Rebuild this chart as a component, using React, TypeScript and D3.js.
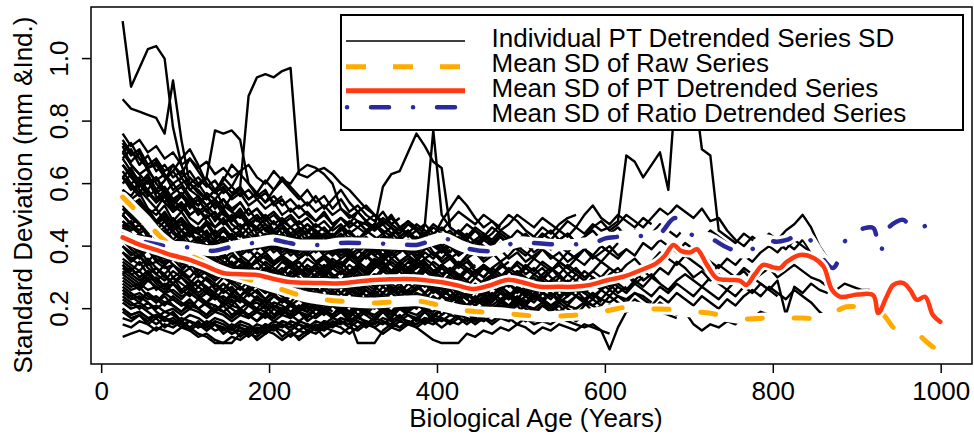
import React from "react";
import * as d3 from "d3";

// Individual PT detrended series SD: values every 10 years of biological age, starting at age 25
const AGE0 = 25;
const STEP = 10;

const outlierSeries: number[][] = [
  [1.12,.91,.97,1.03,1.04,1.0,.78,.66,.58,.56,.53,.55,.51,.49,.52,.48,.46,.49,.45,.47,.44,.46,.43,.41,.44,.42,.40,.43,.39,.41,.38,.40],
  [.62,.60,.57,.61,.56,.54,.57,.59,.55,.53,.57,.55,.58,.56,.59,.88,.94,.95,.94,.96,.97,.63,.62,.64,.65,.63,.60,.58,.55,.52,.50,.48,.46],
  [.74,.70,.68,.65,.66,.62,.64,.60,.62,.59,.62,.77,.76,.77,.74,.60,.56,.58,.53,.55,.51,.53,.50,.48,.51,.47,.49,.46,.48,.45,.47,.44,.46,.43,.45,.42,.44,.41],
  [.87,.84,.83,.82,.81,.76,.93,.74,.60,.57,.55,.58,.53,.51,.54,.50,.52,.48,.50,.47,.49,.46,.44,.47,.45,.43,.46,.44,.42,.45,.43,.41,.44,.42,.40,.43,.41,.44,.40,.42,.39,.41,.38,.40],
  [.58,.55,.53,.50,.52,.48,.46,.49,.45,.44,.47,.43,.45,.42,.44,.41,.43,.40,.42,.44,.41,.43,.40,.42,.39,.41,.43,.40,.42,.44,.46,.59,.63,.64,.70,.76,.72,.67,.65,.46,.44,.42,.45,.43,.41,.44,.42,.40,.43,.41,.39,.42,.40,.38,.41,.39,.37,.40,.38],
  [.50,.47,.45,.48,.44,.46,.42,.45,.41,.43,.40,.42,.39,.41,.38,.40,.42,.39,.41,.38,.40,.37,.39,.41,.38,.40,.37,.39,.36,.38,.40,.37,.39,.41,.38,.40,.47,.77,.50,.46,.44,.47,.45,.43,.46,.44,.42,.45,.43,.41,.44,.42,.40],
  [.52,.50,.47,.49,.46,.44,.47,.45,.43,.46,.44,.42,.45,.43,.41,.44,.42,.40,.43,.41,.44,.42,.40,.43,.41,.39,.42,.40,.43,.41,.39,.42,.40,.38,.41,.39,.42,.40,.38,.41,.39,.42,.40,.43,.41,.39,.42,.40,.43,.41,.44,.42,.45,.43,.46,.44,.47,.45,.46,.48,.69,.67,.62,.66,.70,.58,.95,.95,.92,.71,.69,.45,.43,.41,.44,.42,.40,.43,.41,.39,.42,.40,.38,.36,.33],
  [.70,.66,.63,.60,.62,.58,.55,.57,.54,.56,.53,.55,.52,.56,.58,.55,.57,.54,.58,.61,.60,.64,.66,.65,.63,.60,.52,.50,.48,.47,.45,.48,.46,.44,.47,.45,.43,.46,.44,.42,.45,.43,.46,.44,.42,.45,.43,.41],
  [.66,.63,.60,.62,.58,.61,.64,.68,.71,.66,.60,.57,.59,.55,.57,.53,.55,.52,.54,.50,.52,.49,.51,.48,.50,.47,.49,.46,.48,.45,.47,.44,.46,.43,.45,.42,.44,.41,.43],
  [.62,.65,.60,.63,.58,.61,.66,.63,.68,.64,.60,.57,.62,.59,.64,.66,.62,.60,.64,.61,.58,.55,.58,.54,.56,.52,.55,.51,.53,.50,.48,.51,.47,.49],
  [.58,.56,.60,.57,.54,.57,.53,.56,.60,.58,.55,.58,.61,.66,.63,.60,.57,.61,.58,.62,.59,.56,.53,.56,.52,.55,.58,.54,.51,.53,.50,.47,.50,.46,.48,.45,.47,.44,.46,.43,.45,.42],
];

const highBandSeries: number[][] = [
  [.72,.66,.63,.65,.60,.57,.60,.56,.53,.55,.51,.54,.50,.48,.51,.47,.49,.45,.48,.44,.46,.43,.45,.42,.44,.41,.43,.45,.42],
  [.68,.64,.61,.58,.62,.57,.54,.57,.52,.55,.51,.49,.52,.48,.50,.46,.49,.45,.43,.46,.42,.45,.41,.44,.40,.43,.46,.42,.39,.42,.40,.43,.41,.38,.42,.39,.41,.44,.40,.38,.41,.39,.42,.40,.37,.40,.43,.39,.41,.38,.40],
  [.64,.60,.62,.57,.55,.58,.53,.51,.54,.50,.52,.48,.51,.47,.45,.48,.44,.46,.43,.41,.44,.40,.42,.45,.41,.39,.42,.38,.41,.43,.40,.37,.40,.42,.39,.36,.39,.41,.38,.40,.37,.39,.42,.44,.40,.38,.41,.39,.37,.40,.42,.39,.41,.38,.36,.39,.42,.40,.38,.41],
  [.60,.63,.58,.55,.52,.56,.51,.53,.49,.47,.50,.46,.48,.45,.43,.46,.42,.44,.41,.43,.40,.42,.39,.41,.43,.40,.38,.41,.39,.36,.39,.41,.38,.40,.37,.39,.42,.38,.36,.39],
  [.58,.55,.57,.52,.50,.53,.48,.51,.47,.45,.48,.44,.46,.43,.45,.41,.44,.40,.42,.39,.41,.38,.40,.42,.39,.37,.40,.38,.36,.39,.37,.35,.38,.40,.37,.35,.38,.36,.39,.37,.34,.37,.39,.36,.38,.35,.37,.40,.38,.36,.39,.37,.35,.38,.36,.39,.37],
  [.70,.67,.70,.64,.61,.63,.58,.60,.56,.53,.56,.52,.55,.51,.49,.52,.48,.50,.47,.49,.46,.48,.45,.47],
  [.66,.62,.59,.61,.57,.59,.55,.52,.55,.51,.53,.50,.47,.50,.46,.48,.45,.47,.44,.46,.43,.45,.47,.44,.46,.43,.45,.48,.46,.44,.47,.45,.43,.46,.44,.47,.45,.43,.48,.52,.56,.53,.49,.46,.48,.45,.47,.50,.48,.46,.49,.47,.45,.48,.46,.50,.53,.49,.47,.50,.48,.46,.49,.47],
  [.62,.59,.56,.58,.54,.56,.52,.54,.50,.52,.49,.51,.47,.49,.46,.48,.50,.47,.45,.48,.46,.44,.47,.45,.43,.46,.49,.47,.51,.48,.46,.49,.47,.45,.48,.46,.44,.47,.45,.48,.51,.49,.47,.50,.48,.46],
  [.56,.53,.55,.51,.48,.51,.47,.49,.46,.44,.47,.43,.45,.42,.44,.41,.43,.40,.42,.44,.41,.43,.40,.42,.39,.41,.43,.40,.42,.39,.41,.43,.40,.42,.44,.41,.43,.40,.42,.44,.41,.43,.45,.42,.44,.47,.50,.48,.45,.43,.46,.44,.47,.49,.50],
  [.62,.58,.60,.56,.58,.54,.51,.54,.50,.52,.48,.46,.49,.45,.47,.44,.46,.43,.45,.42,.44,.41,.43,.40,.42,.44,.41,.43,.40,.42,.39,.41,.43,.40,.42,.39,.41,.44,.42,.40,.43,.41,.39,.42,.40,.43,.41,.39,.42],
  [.70,.73,.68,.65,.67,.63,.60,.62,.58,.60,.56,.53,.55,.52,.54,.50,.52,.49,.51,.48,.50,.47,.49,.46,.48,.45,.47,.44,.46,.48,.45,.47,.44,.46,.43,.45,.42,.44],
  [.73,.69,.71,.66,.68,.64,.66,.62,.64,.60,.62,.58,.60,.57,.59,.55,.57,.54,.56,.53,.55,.52,.54,.51,.53,.50,.52,.49,.51,.48,.50,.47,.49,.46],
  [.68,.71,.66,.69,.64,.66,.62,.64,.60,.62,.59,.61,.57,.59,.56,.58,.55,.57,.54,.56],
  [.56,.52,.54,.50,.47,.50,.46,.48,.44,.46,.43,.45,.42,.44,.41,.43,.40,.42,.39,.41,.43,.40,.42,.39,.41,.38,.40,.42,.39,.41,.38,.40,.37,.39,.41,.38,.40,.37,.39,.36,.38],
  [.76,.72,.74,.70,.72,.68,.70,.66,.68,.65,.67,.63,.65,.62,.64],
];

const midBandSeries: number[][] = [
  [.52,.49,.47,.44,.46,.42,.40,.43,.39,.41,.37,.39,.36,.38,.35,.33,.36,.34,.32,.35,.33,.31,.34,.32,.30,.33,.31,.34,.32,.30,.33,.35,.32,.30,.33,.31,.34,.32,.30,.28,.31,.29,.32,.30,.33,.31,.29,.32,.30,.28,.31,.33,.30,.28,.31,.29,.32,.30,.33],
  [.48,.45,.47,.43,.41,.44,.40,.38,.41,.37,.39,.36,.34,.37,.35,.33,.36,.34,.31,.33,.30,.32,.29,.31,.34,.31,.29,.32,.30,.28,.31,.29,.32,.34,.31,.29,.27,.30,.28,.31,.29,.27,.25,.28,.30,.27,.29,.31,.28,.26,.29,.27,.30],
  [.45,.43,.40,.42,.38,.40,.37,.35,.38,.34,.36,.33,.35,.32,.34,.31,.33,.30,.32,.29,.31,.33,.30,.28,.31,.29,.27,.30,.28,.31,.29,.27,.30,.32,.29,.31,.28,.26,.29,.27,.25,.28,.26,.29,.27,.30,.28,.26,.29,.27,.30,.28,.26,.29,.27,.25,.28,.30,.27,.29,.31,.28,.30],
  [.55,.51,.48,.50,.46,.44,.47,.43,.45,.41,.39,.42,.38,.40,.37,.35,.38,.36,.34,.37,.35,.33,.36,.34,.37,.35,.33,.36,.34,.32,.35,.37,.34,.32,.35,.33,.36,.34,.31,.33,.30,.32,.34],
  [.50,.47,.44,.46,.42,.44,.40,.42,.38,.36,.39,.35,.37,.34,.32,.35,.31,.33,.30,.32,.35,.33,.31,.34,.32,.35,.33,.36,.34,.32,.35,.33,.31,.34,.36,.33,.35,.32,.30,.33,.31,.29,.32,.30,.33,.35,.32,.34,.31,.33,.30,.32,.35,.33,.31],
  [.42,.40,.43,.39,.37,.40,.36,.38,.35,.33,.36,.32,.34,.31,.33,.30,.32,.29,.31,.28,.30,.27,.29,.31,.28,.30,.27,.29,.26,.28,.30],
  [.47,.44,.41,.43,.39,.37,.40,.36,.38,.35,.37,.34,.32,.35,.31,.33,.30,.28,.31,.29,.27,.30,.28,.26,.29,.27,.25,.28,.26,.29,.27,.25,.28,.26,.24,.27,.25,.28,.26,.24,.22,.25,.23,.26,.24,.27,.25,.23,.26,.24,.27,.25,.23,.26,.24,.27,.29,.26,.28,.25,.27],
  [.44,.41,.39,.42,.38,.36,.39,.35,.37,.34,.32,.35,.33,.31,.34,.32,.30,.33,.31,.29,.32,.30,.28,.31,.33,.30,.32,.29,.31,.28,.30,.33,.31,.29,.32,.30,.28,.31,.29,.27,.30,.28,.26,.29,.31,.28,.30,.32,.29],
  [.53,.50,.52,.47,.45,.48,.44,.42,.45,.41,.43,.40,.38,.41,.37,.39,.36,.38,.35,.37,.34,.36,.38,.35,.33,.36,.34,.37,.35,.33,.36,.34,.32,.35,.33,.36,.34],
  [.40,.38,.36,.39,.35,.37,.34,.32,.35,.31,.33,.30,.32,.29,.31,.28,.30,.27,.29,.26,.28,.25,.27,.24,.26,.28,.25,.27,.24,.26,.23,.25,.27,.24,.26,.23,.25,.22,.24,.26,.23,.25,.22,.24,.21,.23,.25,.22,.24,.26,.23,.25,.22,.24,.26,.23,.25,.22],
  [.46,.48,.44,.42,.45,.41,.39,.42,.38,.40,.37,.35,.38,.34,.36,.33,.35,.32,.34,.36,.33,.35,.32,.34,.31,.33,.35,.32,.34,.37,.35,.33,.36,.34,.32,.35,.33,.31,.34,.32,.30,.33,.31,.34,.32,.30,.33],
  [.43,.40,.38,.41,.37,.35,.38,.34,.36,.33,.35,.32,.30,.33,.31,.29,.32,.30,.28,.31,.29,.32,.30,.28,.31,.29,.27,.30,.32,.29,.31,.28,.30,.33,.31,.29,.32,.30,.28,.31,.29,.27,.30,.28,.31,.29,.27,.30,.28,.31,.33,.30,.28,.31,.29,.32,.30,.28,.31,.33,.30,.32,.29,.31,.28],
  [.40,.37,.39,.35,.38,.34,.36,.33,.35,.32,.34,.31,.33,.35,.32,.34,.31,.33,.30,.32,.34,.31,.33,.30,.32,.35,.33,.31,.34,.32,.35,.33,.31,.34,.32,.30,.33,.31,.34,.32,.35,.33,.31,.34,.32,.30,.33,.31,.34,.32,.35,.33,.31,.34,.32,.30],
  [.34,.32,.35,.31,.33,.30,.28,.31,.29,.27,.30,.28,.26,.29,.27,.25,.28,.26,.24,.27,.25,.28,.26,.24,.27,.25,.23,.26,.24,.27,.25,.23,.26,.24,.22,.25,.23,.26,.24,.27,.25,.23,.26,.24,.27,.25,.23,.26,.24,.27,.25,.28,.26,.24,.27,.25,.28,.26,.29,.27],
  [.50,.53,.49,.51,.47,.49,.45,.47,.44,.42,.45,.41,.43,.40,.42,.39,.41,.38,.40,.37,.39,.36,.38,.40,.37,.39,.36,.38,.35,.37,.39,.36,.38,.35,.37,.34,.36,.38,.35,.37,.34,.36,.33],
  [.45,.42,.44,.40,.42,.39,.41,.37,.39,.36,.38,.35,.37,.34,.36,.33,.35,.37,.34,.36,.33,.35,.32,.34,.36,.33,.35,.32,.34,.31,.33,.35,.32,.34,.31,.33,.35,.32,.34,.36,.33,.35,.32,.34,.31,.33,.35],
  [.38,.36,.37,.34,.35,.33,.34,.31,.33,.30,.32,.29,.31,.28,.30,.27,.29,.31,.28,.30,.27,.29,.26,.28,.30,.27,.29,.26,.28,.30,.27,.29,.26,.28,.25,.27,.29,.26,.28,.30,.27,.29,.26,.28,.30,.27,.29,.31,.28,.30,.27,.29,.31,.28],
  [.48,.46,.44,.46,.43,.45,.41,.43,.40,.42,.39,.41,.38,.40,.37,.39,.36,.38,.35,.37,.34,.36,.38,.35,.37,.34,.36,.38,.35,.37,.34,.36,.38,.35,.37,.39,.36,.38,.35,.37,.34,.36,.38,.35,.37,.39,.36,.38,.35,.37,.39,.36,.38,.35,.37,.39,.36,.38,.40,.37,.39],
  [.42,.44,.41,.43,.40,.42,.39,.41,.38,.40,.42,.39,.41,.38,.40,.42,.39,.41,.43,.40,.42,.39,.41,.43,.40,.42,.44,.41,.43,.40,.42,.44,.41,.43,.40,.42,.44,.41,.43,.45,.42,.44,.41,.43],
  [.31,.33,.30,.32,.29,.31,.28,.30,.27,.29,.26,.28,.25,.27,.24,.26,.28,.25,.27,.24,.26,.23,.25,.27,.24,.26,.23,.25,.27,.24,.26,.23,.25,.27,.24,.26,.28,.25,.27,.24,.26,.28,.25,.27,.24,.26,.28,.25,.27,.29,.26],
];

const lowBandSeries: number[][] = [
  [.11,.12,.13,.12,.14,.13,.12,.14,.13,.11,.12,.10,.09,.11,.10,.12,.11,.13,.12,.10,.12,.11,.13,.12,.14,.13,.12,.14,.13,.15,.14,.12,.14,.13,.15,.14,.12,.10,.09,.09,.09,.12,.11,.13,.12,.14,.13,.15,.14,.12,.14,.13,.15,.14,.13,.15,.14,.13,.12],
  [.15,.14,.16,.15,.13,.15,.14,.16,.14,.12,.11,.09,.09,.09,.12,.14,.13,.15,.14,.16,.15,.13,.15,.14,.16,.15,.17,.16,.09,.09,.09,.13,.15,.14,.16,.15,.17,.16,.14,.16,.15,.17,.16,.18],
  [.19,.17,.18,.16,.18,.17,.15,.17,.16,.14,.16,.15,.13,.15,.14,.12,.14,.13,.15,.14,.16,.15,.13,.15,.14,.16,.15,.17,.16,.14,.16,.15,.17,.16,.18,.17,.15,.17,.16,.18,.17,.15,.17,.16,.18,.17,.19,.18,.16,.18,.17,.19,.18],
  [.22,.20,.21,.19,.17,.19,.18,.16,.18,.17,.15,.17,.16,.14,.16,.15,.13,.15,.14,.16,.15,.13,.15,.14,.16,.15,.17,.16,.14,.16,.15,.17,.16,.14,.16,.15,.17,.16],
  [.25,.23,.24,.22,.20,.22,.21,.19,.21,.20,.18,.20,.19,.17,.19,.18,.16,.18,.17,.19,.18,.16,.18,.17,.19,.18,.20,.19,.17,.19,.18,.20,.19,.17,.19,.18,.20,.19,.21,.20,.18,.20,.19,.21,.20,.18,.20,.19,.21,.20,.22,.21,.19,.21,.20,.22,.21,.19,.21,.20,.22],
  [.28,.26,.27,.24,.22,.25,.23,.21,.23,.20,.22,.19,.21,.18,.20,.17,.19,.21,.18,.20,.17,.19,.21,.18,.20,.22,.19,.21,.18,.20,.22,.19,.21,.23,.20,.22,.19,.21,.18,.20,.22,.19,.21,.23,.20,.22,.24,.21,.23],
  [.31,.29,.27,.30,.26,.28,.25,.23,.26,.24,.22,.25,.23,.21,.24,.22,.20,.23,.21,.19,.22,.20,.23,.21,.19,.22,.20,.18,.21,.19,.22,.20,.18,.21,.19,.22,.20,.23,.21,.19,.22,.20,.18,.21,.19,.22,.20,.23,.21,.24,.22,.20,.23,.21,.24,.22],
  [.35,.33,.30,.32,.29,.27,.30,.26,.28,.25,.27,.24,.22,.25,.23,.21,.24,.22,.20,.23,.21,.19,.22,.20,.23,.21,.19,.22,.20,.18,.21,.19,.22],
  [.38,.35,.37,.33,.31,.34,.30,.32,.29,.27,.30,.26,.28,.25,.27,.24,.26,.23,.25,.22,.24,.26,.23,.25,.22,.24,.21,.23,.25,.22,.24,.21,.23,.20,.22,.24,.21,.23,.20,.22,.24,.21,.23,.25,.22],
  [.33,.31,.29,.31,.28,.26,.28,.25,.27,.24,.22,.24,.21,.23,.20,.22,.19,.21,.18,.20,.17,.19,.16,.18,.20,.17,.19,.16,.18,.15,.17,.19,.16,.18,.15,.17,.19,.16,.18,.20,.17,.19,.16,.18,.20,.17,.19,.21,.18,.20,.17,.19,.21,.18,.20,.22,.19,.21],
  [.24,.22,.20,.22,.19,.17,.19,.16,.14,.16,.13,.15,.12,.14,.11,.13,.10,.12,.14,.11,.13,.10,.12,.14,.11,.13],
  [.27,.25,.23,.25,.22,.24,.21,.19,.22,.20,.18,.21,.19,.17,.20,.18,.16,.19,.17,.20,.18,.21,.19,.22,.20,.18,.21,.19,.22,.20,.23,.21,.19,.22,.20,.23,.21,.24,.22,.20,.23,.21,.24,.22,.25,.23,.21,.24,.22,.25,.23,.21],
  [.20,.18,.19,.17,.15,.17,.16,.14,.16,.15,.13,.15,.14,.12,.14,.13,.15,.14,.16,.15,.13,.15,.14,.16,.15,.17,.16,.14,.16,.15,.17,.16,.14,.16,.15,.17,.16,.18,.17,.15,.17,.16,.18,.17,.15,.17,.16,.18,.17,.15,.16,.15,.17,.16,.15,.14,.15,.13,.07,.14,.19,.20,.21,.20,.19,.18,.17],
  [.23,.21,.22,.20,.21,.19,.20,.18,.20,.19,.17,.19,.18,.16,.18,.17,.19,.18,.16,.18,.17,.19,.18,.20,.19,.17,.19,.18,.20,.19,.17,.19,.18,.20,.19,.21,.20,.18,.20,.19,.21,.20,.18,.20,.19,.21,.20,.22,.21,.19,.21,.20],
  [.29,.27,.28,.26,.27,.25,.26,.24,.25,.23,.25,.24,.22,.24,.23,.21,.23,.22,.24,.23,.21,.23,.22,.24,.23,.21,.23,.22,.24,.23,.25,.24,.22,.24,.23,.25,.24,.22,.24,.23,.25,.24,.26,.25,.23,.25,.24,.26,.25,.23,.25,.24,.26,.25,.27,.26,.24,.26],
  [.26,.24,.25,.23,.24,.22,.23,.21,.22,.20,.22,.21,.19,.21,.20,.18,.20,.19,.21,.20,.18,.20,.19,.21,.20,.22,.21,.19,.21,.20,.22,.21,.19,.21,.20,.22,.21,.23,.22,.20,.22,.21,.23,.22,.20,.22,.21,.23,.22,.24,.23,.21,.23,.22,.24,.23,.21,.23,.22,.24,.23,.25,.24,.22],
  [.20,.18,.19,.17,.18,.16,.17,.15,.16,.14,.15,.13,.14,.12,.13,.11,.13,.12,.14,.13,.11,.13,.12,.14,.13,.15,.14,.12,.14],
  [.34,.31,.32,.29,.30,.27,.28,.25,.27,.24,.26,.23,.24,.22,.23,.21,.22,.20,.22,.21,.19,.21,.20,.22,.21,.19],
  [.17,.16,.18,.15,.17,.14,.16,.15,.13,.15,.14,.16,.15,.13,.15,.14,.12,.14,.13,.15,.14,.16,.15,.13,.15,.14,.16,.15,.17,.16,.14,.16,.15,.17,.16,.14,.16,.15,.17,.16,.18,.17,.15,.17,.16,.18,.17,.15,.17,.16,.18,.17,.19,.18,.16,.18,.17],
];

const longSeries: number[][] = [
  [.54,.51,.49,.52,.48,.46,.49,.45,.47,.44,.42,.45,.41,.43,.40,.42,.39,.41,.38,.40,.37,.39,.41,.38,.40,.37,.39,.36,.38,.40,.37,.39,.36,.38,.40,.37,.39,.41,.38,.40,.37,.39,.42,.40,.38,.41,.39,.42,.40,.43,.41,.39,.42,.44,.41,.43,.46,.48,.45,.47,.50,.48,.46,.49,.52,.50,.53,.51,.49,.52,.48,.49,.45,.42,.40,.43,.41,.44,.42,.45,.47,.50,.46,.40,.36],
  [.36,.34,.32,.35,.31,.29,.32,.30,.28,.31,.29,.27,.30,.28,.26,.29,.27,.25,.28,.26,.24,.27,.25,.28,.26,.24,.27,.25,.23,.26,.24,.27,.25,.23,.26,.28,.25,.27,.24,.26,.23,.25,.28,.26,.24,.27,.25,.23,.26,.28,.25,.27,.24,.26,.29,.27,.30,.28,.26,.29,.31,.29,.32,.30,.33,.31,.35,.33,.30,.32,.29,.31,.28,.30,.32,.29,.31,.33,.30,.32,.34,.32,.30,.29,.27,.26,.28,.27,.26,.26],
  [.30,.28,.26,.29,.27,.25,.28,.26,.24,.27,.25,.23,.26,.24,.22,.25,.23,.21,.24,.22,.25,.23,.21,.24,.22,.25,.23,.21,.24,.22,.20,.23,.21,.24,.22,.20,.23,.21,.24,.22,.25,.23,.21,.24,.22,.25,.23,.26,.24,.22,.25,.23,.26,.24,.27,.25,.23,.26,.24,.27,.25,.28,.26,.24,.27,.25,.28,.26,.24,.27,.25,.23,.26,.24,.27,.25,.28,.26,.29,.18,.27,.25,.28,.26,.25],
  [.26,.24,.22,.25,.23,.21,.24,.22,.20,.23,.21,.19,.22,.20,.18,.21,.19,.17,.20,.18,.21,.19,.17,.20,.18,.21,.19,.17,.20,.18,.16,.19,.17,.20,.18,.16,.19,.17,.20,.18,.21,.19,.17,.20,.18,.21,.19,.22,.20,.18,.21,.19,.22,.20,.18,.21,.23,.21,.24,.22,.20,.23,.21,.19,.22,.20,.18,.19,.15,.13,.15,.14,.16,.15,.18,.17,.19,.18],
  [.32,.30,.28,.31,.29,.27,.30,.28,.26,.29,.27,.25,.28,.26,.24,.27,.25,.23,.26,.24,.22,.25,.23,.26,.24,.22,.25,.23,.21,.24,.22,.25,.23,.21,.24,.22,.20,.23,.21,.24,.22,.20,.23,.21,.24,.22,.25,.23,.21,.24,.22,.25,.23,.26,.24,.22,.25,.23,.26,.24,.22,.25,.23,.21,.24,.22,.25,.23,.21,.24,.22,.20,.23,.21,.24,.26,.24,.27,.25,.23,.26,.24,.22,.19,.17],
  [.46,.43,.41,.44,.40,.38,.41,.37,.39,.36,.34,.37,.35,.33,.36,.34,.32,.35,.33,.31,.34,.32,.30,.33,.31,.34,.32,.30,.33,.31,.34,.32,.35,.33,.31,.34,.32,.35,.33,.31,.34,.32,.30,.33,.31,.34,.32,.35,.33,.36,.34,.32,.35,.33,.36,.34,.37,.35,.38,.36,.39,.37,.41,.39,.42,.40,.38,.41,.39,.37,.35,.33,.36,.34,.37,.35,.38,.40,.38,.41,.39,.42,.38,.34,.30],
  [.38,.36,.34,.36,.33,.31,.34,.32,.30,.33,.31,.29,.32,.30,.28,.31,.29,.27,.30,.28,.26,.29,.27,.30,.28,.26,.29,.27,.25,.28,.26,.29,.27,.25,.28,.26,.29,.27,.25,.28,.26,.24,.27,.25,.28,.26,.24,.27,.25,.28,.26,.29,.27,.25,.28,.26,.29,.27,.30,.28,.26,.29,.27,.30,.28,.26,.29,.31,.29,.27,.30,.28,.26,.29,.27,.30,.28,.26,.24],
  [.42,.39,.37,.40,.36,.34,.37,.35,.33,.36,.34,.32,.30,.33,.31,.29,.32,.30,.28,.31,.29,.32,.30,.28,.31,.29,.32,.30,.28,.31,.29,.32,.30,.28,.31,.29,.32,.30,.33,.31,.29,.32,.30,.28,.31,.29,.32,.30,.33,.31,.29,.32,.34,.31,.33,.30,.32,.35,.33,.31,.34,.36,.33,.35,.38,.36,.34,.37,.35,.33,.31,.34,.32,.30,.33,.31],
  [.50,.47,.49,.45,.47,.43,.45,.42,.44,.41,.43,.40,.42,.39,.41,.38,.40,.42,.39,.41,.38,.40,.37,.39,.41,.38,.40,.37,.39,.41,.38,.40,.42,.39,.41,.38,.40,.42,.39,.41,.38,.40,.42,.44,.41,.43,.40,.42,.44,.41,.43,.45,.42,.44,.41,.43,.45,.42,.44,.46,.43,.45,.42,.44,.47,.45,.43,.46,.44,.42,.45,.43,.41,.39],
];

// Mean SD of raw series
const rawMeanAges = [25,35,50,70,90,117,135,157,185,216,240,268,295,323,350,375,400,427,450,474,500,530,555,582,605,629,650,677,700,721,745,768,790,812,835,860,887,910,931,943,955,970,980,990,999];
const rawMeanValues = [.557,.53,.49,.43,.39,.356,.33,.308,.285,.26,.24,.228,.222,.218,.222,.225,.212,.196,.19,.187,.18,.174,.178,.183,.195,.206,.2,.198,.19,.187,.175,.167,.17,.17,.17,.17,.206,.2,.18,.14,.122,.122,.1,.078,.066];

// Mean SD of PT detrended series
const ptMeanAges = [25,45,66,85,105,125,145,165,185,205,224,244,264,284,303,323,343,363,383,403,423,443,463,483,503,522,542,562,582,601,621,641,661,671,681,690,701,709,721,733,748,760,768,778,788,800,808,816,832,848,860,870,880,900,919,925,935,943,955,963,971,981,990,999];
const ptMeanValues = [.428,.405,.387,.37,.356,.335,.314,.31,.308,.295,.285,.283,.282,.281,.286,.292,.294,.295,.292,.285,.275,.263,.275,.292,.283,.27,.27,.27,.276,.29,.302,.322,.346,.37,.404,.385,.38,.39,.34,.297,.292,.29,.276,.31,.34,.332,.33,.35,.372,.362,.334,.26,.238,.245,.243,.186,.238,.276,.282,.26,.228,.238,.18,.158];

// Mean SD of ratio detrended series
const ratioMeanAges = [25,40,58,77,97,115,133,150,165,185,204,220,236,252,268,284,310,343,360,375,390,407,425,440,466,480,498,515,530,545,562,575,590,600,615,633,650,665,683,700,725,746,768,788,804,816,836,856,871,880,891,905,919,927,937,955,963,977,990];
const ratioMeanValues = [.436,.42,.41,.4,.398,.39,.385,.395,.404,.412,.42,.412,.404,.404,.404,.41,.41,.407,.405,.404,.415,.426,.405,.39,.385,.4,.414,.41,.407,.405,.405,.41,.414,.425,.43,.436,.43,.44,.49,.44,.425,.394,.378,.42,.414,.42,.44,.37,.33,.372,.445,.455,.458,.378,.458,.484,.462,.474,.398];

const xTicks = [0, 200, 400, 600, 800, 1000];
const yTicks = [0.2, 0.4, 0.6, 0.8, 1.0];
const legendLabels = [
  "Individual PT Detrended Series SD",
  "Mean SD of Raw Series",
  "Mean SD of PT Detrended Series",
  "Mean SD of Ratio Detrended Series",
];

const FONT = "'Liberation Sans', Arial, Helvetica, sans-serif";
const RED = "#ff3a12";
const ORANGE = "#ffab00";
const BLUE = "#2a2a9c";
const ORANGE_DASH = "15 32";
const BLUE_DASH = "0.1 23.9 18 24";

export default function App() {
  const L = 91, R = 972, T = 7, B = 364;
  const x = d3.scaleLinear().domain([-12.7, 1036.7]).range([L, R]);
  const y = d3.scaleLinear().domain([0.023, 1.165]).range([B, T]);

  const seriesLine = d3
    .line<number>()
    .x((_, i) => x(AGE0 + STEP * i))
    .y((d) => y(d));

  const meanLine = (ages: number[]) =>
    d3
      .line<number>()
      .x((_, i) => x(ages[i]))
      .y((d) => y(d))
      .curve(d3.curveCatmullRom.alpha(0.5));

  const allSeries = [...lowBandSeries, ...midBandSeries, ...longSeries, ...highBandSeries, ...outlierSeries];

  const rawPath = meanLine(rawMeanAges)(rawMeanValues) || "";
  const ptPath = meanLine(ptMeanAges)(ptMeanValues) || "";
  const ratioPath = meanLine(ratioMeanAges)(ratioMeanValues) || "";

  const legendRowsLineY = [41, 66.7, 90.7, 107.3];
  const legendRowsTextY = [46.5, 71.5, 96.5, 121.5];
  const lx0 = 346, lx1 = 465;

  return (
    <svg
      width={974}
      height={437}
      style={{ position: "absolute", left: 0, top: 0, background: "#fff" }}
      fontFamily={FONT}
    >
      <defs>
        <clipPath id="plotClip">
          <rect x={L} y={T} width={R - L} height={B - T} />
        </clipPath>
      </defs>
      <rect x={0} y={0} width={974} height={437} fill="#fff" />
      <g clipPath="url(#plotClip)">
        {allSeries.map((s, i) => (
          <path key={i} d={seriesLine(s) || ""} fill="none" stroke="#000" strokeWidth={2.4} strokeLinejoin="round" />
        ))}
        <path d={rawPath} fill="none" stroke="#fff" strokeWidth={11} strokeLinecap="round" strokeLinejoin="round" />
        <path d={rawPath} fill="none" stroke={ORANGE} strokeWidth={5} strokeDasharray={ORANGE_DASH} strokeLinecap="round" />
        <path d={ratioPath} fill="none" stroke="#fff" strokeWidth={11} strokeLinecap="round" strokeLinejoin="round" />
        <path d={ratioPath} fill="none" stroke={BLUE} strokeWidth={4.5} strokeDasharray={BLUE_DASH} strokeLinecap="round" />
        <path d={ptPath} fill="none" stroke="#fff" strokeWidth={10} strokeLinecap="round" strokeLinejoin="round" />
        <path d={ptPath} fill="none" stroke={RED} strokeWidth={4.5} strokeLinecap="round" strokeLinejoin="round" />
      </g>
      <rect x={L} y={T} width={R - L} height={B - T} fill="none" stroke="#000" strokeWidth={1.5} />
      {xTicks.map((t) => (
        <g key={t}>
          <line x1={x(t)} x2={x(t)} y1={B} y2={B + 9} stroke="#000" strokeWidth={1.5} />
          <text x={x(t)} y={399.5} textAnchor="middle" fontSize={26}>
            {t}
          </text>
        </g>
      ))}
      <text x={536} y={427} textAnchor="middle" fontSize={26}>
        Biological Age (Years)
      </text>
      {yTicks.map((t) => (
        <g key={t}>
          <line x1={L} x2={L - 9} y1={y(t)} y2={y(t)} stroke="#000" strokeWidth={1.5} />
          <text transform={`translate(68,${y(t)}) rotate(-90)`} textAnchor="middle" fontSize={26}>
            {t.toFixed(1)}
          </text>
        </g>
      ))}
      <text transform={`translate(32,195) rotate(-90)`} textAnchor="middle" fontSize={26}>
        Standard Deviation (mm &amp;Ind.)
      </text>
      <rect x={341} y={15} width={622} height={115} fill="#fff" stroke="#000" strokeWidth={2} />
      <line x1={lx0} x2={lx1} y1={legendRowsLineY[0]} y2={legendRowsLineY[0]} stroke="#000" strokeWidth={1.5} />
      <line x1={lx0} x2={lx1} y1={legendRowsLineY[1]} y2={legendRowsLineY[1]} stroke={ORANGE} strokeWidth={5} strokeDasharray="20 27" />
      <line x1={lx0} x2={lx1} y1={legendRowsLineY[2]} y2={legendRowsLineY[2]} stroke={RED} strokeWidth={5} />
      <line x1={347} x2={lx1} y1={legendRowsLineY[3]} y2={legendRowsLineY[3]} stroke={BLUE} strokeWidth={4.5} strokeDasharray={BLUE_DASH} strokeLinecap="round" />
      {legendLabels.map((lab, i) => (
        <text key={lab} x={491.5} y={legendRowsTextY[i]} fontSize={26}>
          {lab}
        </text>
      ))}
    </svg>
  );
}
